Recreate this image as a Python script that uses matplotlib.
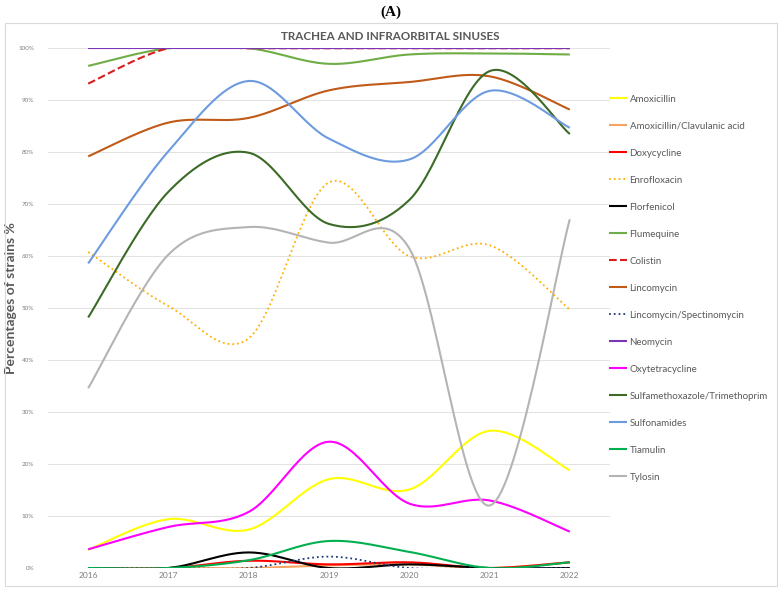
import numpy as np
import matplotlib
matplotlib.use("Agg")
import matplotlib.pyplot as plt
from matplotlib.patches import Rectangle

plt.rcParams["font.family"] = ["Lato", "DejaVu Sans"]

years = [2016, 2017, 2018, 2019, 2020, 2021, 2022]

# percentages of resistant strains per antibiotic
amoxicillin = [3.5, 9.4, 7.4, 17.1, 15.1, 26.4, 18.8]
amox_clav = [0, 0, 0, 0.5, 0.7, 0, 1.1]
doxycycline = [0, 0, 1.4, 0.7, 1.1, 0, 1.1]
enrofloxacin = [60.8, 50.4, 44.2, 74.2, 60.0, 62.1, 49.7]
florfenicol = [0, 0, 3.0, 0, 0.7, 0, 0]
flumequine = [96.6, 100, 100, 97.0, 98.8, 99.0, 98.8]
colistin = [93.2, 100, 100, 100, 100, 100, 100]
lincomycin = [79.2, 85.7, 86.6, 91.9, 93.5, 94.6, 88.2]
linco_spectino = [0, 0, 0, 2.2, 0, 0, 0]
neomycin = [100, 100, 100, 100, 100, 100, 100]
oxytetracycline = [3.6, 7.9, 10.8, 24.3, 12.4, 13.0, 7.0]
sulfa_tmp = [48.2, 72.4, 79.9, 66.2, 70.8, 95.6, 83.5]
sulfonamides = [58.6, 80.2, 93.7, 82.6, 78.6, 91.8, 84.7]
tiamulin = [0, 0, 1.5, 5.2, 3.1, 0, 1.1]
tylosin = [34.6, 60.3, 65.6, 62.6, 61.5, 12.0, 67.1]

series = [
    ("Amoxicillin", amoxicillin, "#FFFF00", "-"),
    ("Amoxicillin/Clavulanic acid", amox_clav, "#F4A460", "-"),
    ("Doxycycline", doxycycline, "#FF0000", "-"),
    ("Enrofloxacin", enrofloxacin, "#FFB000", ":"),
    ("Florfenicol", florfenicol, "#000000", "-"),
    ("Flumequine", flumequine, "#70AD47", "-"),
    ("Colistin", colistin, "#D81E1E", "--"),
    ("Lincomycin", lincomycin, "#C05A18", "-"),
    ("Lincomycin/Spectinomycin", linco_spectino, "#1F3A7A", ":"),
    ("Neomycin", neomycin, "#7B35B8", "-"),
    ("Oxytetracycline", oxytetracycline, "#FF00FF", "-"),
    ("Sulfamethoxazole/Trimethoprim", sulfa_tmp, "#3B6B26", "-"),
    ("Sulfonamides", sulfonamides, "#6D9BE0", "-"),
    ("Tiamulin", tiamulin, "#00B050", "-"),
    ("Tylosin", tylosin, "#B4B4B4", "-"),
]


def smooth(x, y, n=30):
    # excel-like smoothed line: Catmull-Rom segments as cubic Bezier
    x = np.asarray(x, float)
    y = np.asarray(y, float)
    px = np.concatenate([[x[0]], x, [x[-1]]])
    py = np.concatenate([[y[0]], y, [y[-1]]])
    t = np.linspace(0, 1, n)
    xs, ys = [], []
    for i in range(1, len(px) - 2):
        p0 = np.array([px[i], py[i]])
        p3 = np.array([px[i + 1], py[i + 1]])
        c1 = p0 + (np.array([px[i + 1], py[i + 1]]) - np.array([px[i - 1], py[i - 1]])) / 6
        c2 = p3 - (np.array([px[i + 2], py[i + 2]]) - np.array([px[i], py[i]])) / 6
        b = ((1 - t) ** 3)[:, None] * p0 + (3 * (1 - t) ** 2 * t)[:, None] * c1 \
            + (3 * (1 - t) * t ** 2)[:, None] * c2 + (t ** 3)[:, None] * p3
        xs.append(b[:, 0])
        ys.append(b[:, 1])
    return np.concatenate(xs), np.concatenate(ys)


fig = plt.figure(figsize=(7.81, 5.92), dpi=100)
ax = fig.add_axes([0.0615, 0.0405, 0.7195, 0.878])

for name, vals, color, ls in series:
    sx, sy = smooth(years, vals)
    lw = 1.5
    if ls == ":":
        lw = 1.3
    ax.plot(sx, sy, color=color, linestyle=ls, lw=lw, label=name,
            solid_capstyle="butt", dash_capstyle="butt")

ax.set_xlim(2015.5, 2022.5)
ax.set_ylim(0, 100)
ax.set_xticks(years)
ax.set_xticklabels([str(y) for y in years], fontsize=6, color="#7F7F7F")
ax.set_yticks(range(0, 101, 10))
ax.set_yticklabels([f"{v}%" for v in range(0, 101, 10)], fontsize=4.5, color="#7F7F7F")
ax.tick_params(length=0, pad=3)
ax.tick_params(axis="y", pad=10)
ax.grid(axis="y", color="#E3E3E3", lw=0.8)
ax.set_axisbelow(True)
for s in ax.spines.values():
    s.set_visible(False)

ax.set_ylabel("Percentages of strains %", fontsize=10, fontweight="bold",
              color="#595959", labelpad=1)
ax.yaxis.set_label_coords(-0.055, 0.52)

fig.text(0.5, 0.979, "(A)", ha="center", va="center", fontsize=11,
         fontweight="bold", family="Liberation Serif")
fig.text(0.5, 0.9375, "TRACHEA AND INFRAORBITAL SINUSES", ha="center", va="center",
         fontsize=8.4, fontweight="bold", color="#595959")

fig.patches.append(Rectangle((5 / 781, 1 - 586 / 592), 772 / 781, 563 / 592,
                             transform=fig.transFigure, fill=False,
                             edgecolor="#D9D9D9", lw=0.8))

leg = fig.legend(loc="upper left", bbox_to_anchor=(0.775, 1 - 91 / 592),
                 frameon=False, fontsize=7.0, labelcolor="#595959",
                 handlelength=1.8, handletextpad=0.3, labelspacing=1.85,
                 borderaxespad=0)

fig.savefig("out.png", dpi=100)
